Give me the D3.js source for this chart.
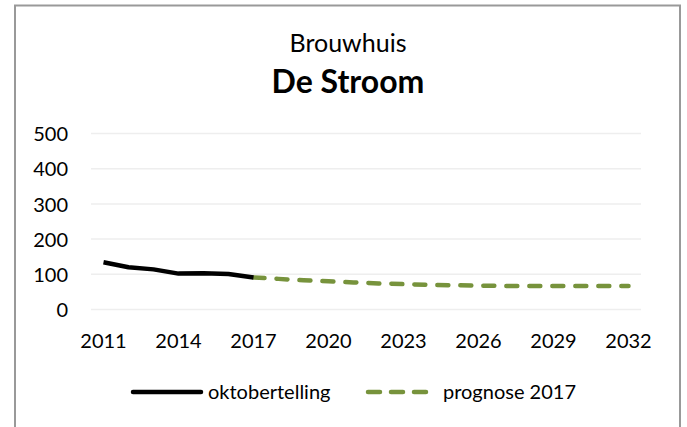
<!DOCTYPE html>
<html>
<head>
<meta charset="utf-8">
<script src="https://cdn.jsdelivr.net/npm/d3@7"></script>
<style>
  body { margin: 0; background: #fff; }
  svg text { font-family: Lato, "Open Sans", sans-serif; fill: #000; }
</style>
</head>
<body>
<div id="chart"></div>
<script>
// years on the category axis
var years = d3.range(2011, 2033)
var tickYears = [2011, 2014, 2017, 2020, 2023, 2026, 2029, 2032]
var yTicks = [0, 100, 200, 300, 400, 500]

// counted pupils (oktobertelling)
var countYears = [2011, 2012, 2013, 2014, 2015, 2016, 2017]
var countValues = [134, 120, 114, 102, 103, 101, 91]

// forecast (prognose 2017)
var progYears = [2017, 2018, 2019, 2020, 2021, 2022, 2023, 2024, 2025, 2026, 2027, 2028, 2029, 2030, 2031, 2032]
var progValues = [91, 87, 83, 80, 77, 74, 72, 70, 69, 68, 67, 67, 67, 67, 67, 67]

var W = 687, H = 427
var plot = {left: 91, right: 641, top: 133.5, bottom: 309.5}

var svg = d3.select('#chart').append('svg')
  .attr('width', W).attr('height', H)

svg.append('rect')
  .attr('x', 15).attr('y', 5.5)
  .attr('width', 665).attr('height', 440)
  .attr('fill', '#fff').attr('stroke', '#999').attr('stroke-width', 2)

svg.append('text').attr('x', 348).attr('y', 52)
  .attr('text-anchor', 'middle').attr('font-size', 25)
  .text('Brouwhuis')
svg.append('text').attr('x', 348).attr('y', 93)
  .attr('text-anchor', 'middle').attr('font-size', 32).attr('font-weight', 'bold')
  .text('De Stroom')

var x = d3.scaleBand().domain(years).range([plot.left, plot.right])
var y = d3.scaleLinear().domain([0, 500]).range([plot.bottom, plot.top])
var cx = d => x(d) + x.bandwidth() / 2

// gridlines
svg.append('g').selectAll('line')
  .data(yTicks)
  .enter().append('line')
    .attr('x1', plot.left).attr('x2', plot.right)
    .attr('y1', d => y(d)).attr('y2', d => y(d))
    .attr('stroke', '#eeeeee').attr('stroke-width', 1.5)

var yAxis = svg.append('g')
  .attr('transform', 'translate(' + (plot.left - 23) + ',0)')
  .call(d3.axisLeft(y).tickValues(yTicks).tickSize(0).tickPadding(0))
yAxis.select('.domain').remove()
yAxis.selectAll('text').attr('font-size', 20).attr('dy', '0.36em')

var xAxis = svg.append('g')
  .attr('transform', 'translate(0,347.5)')
  .call(d3.axisBottom(x).tickValues(tickYears).tickSize(0).tickPadding(0))
xAxis.select('.domain').remove()
xAxis.selectAll('text').attr('font-size', 20).attr('y', 0).attr('dy', 0)

var line = d3.line().x(d => cx(d[0])).y(d => y(d[1]))

svg.append('path')
  .datum(progYears.map((d, i) => [d, progValues[i]]))
  .attr('d', line)
  .attr('fill', 'none').attr('stroke', '#77933c').attr('stroke-width', 4.5)
  .attr('stroke-linecap', 'round').attr('stroke-dasharray', '11,12')

svg.append('path')
  .datum(countYears.map((d, i) => [d, countValues[i]]))
  .attr('d', line)
  .attr('fill', 'none').attr('stroke', '#000').attr('stroke-width', 4.5)
  .attr('stroke-linejoin', 'round')

// legend
var leg = svg.append('g')
leg.append('line').attr('x1', 133).attr('x2', 201).attr('y1', 392).attr('y2', 392)
  .attr('stroke', '#000').attr('stroke-width', 4.5).attr('stroke-linecap', 'round')
leg.append('text').attr('x', 208).attr('y', 392).attr('dy', '0.35em')
  .attr('font-size', 20).text('oktobertelling')
leg.append('line').attr('x1', 368).attr('x2', 427).attr('y1', 392).attr('y2', 392)
  .attr('stroke', '#77933c').attr('stroke-width', 4.5).attr('stroke-linecap', 'round')
  .attr('stroke-dasharray', '12,11')
leg.append('text').attr('x', 443).attr('y', 392).attr('dy', '0.35em')
  .attr('font-size', 20).text('prognose 2017')
</script>
</body>
</html>
